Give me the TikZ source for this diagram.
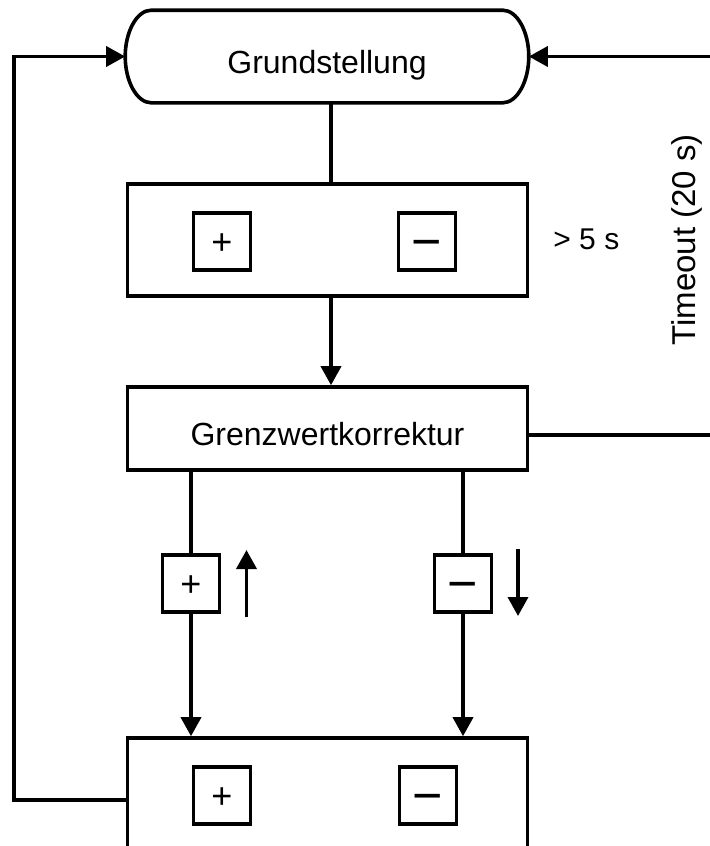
\documentclass[tikz,border=0pt]{standalone}
\usepackage{fontspec}
\setmainfont{Liberation Sans}
\usetikzlibrary{arrows.meta}
\begin{document}
\begin{tikzpicture}[x=0.5pt,y=-0.5pt,
  ln/.style={line width=1.8pt},
  arr/.style={ln,-{Triangle[length=9.5pt,width=10pt]}},
  box/.style={draw,ln,rectangle,minimum width=200pt,inner sep=0pt,font=\fontsize{16}{19}\selectfont,text height=16.8pt,text depth=0pt},
  sq/.style={draw,ln,rectangle,minimum width=28.5pt,minimum height=28.5pt,inner sep=0pt},
  plussign/.style={font=\fontsize{18}{20}\selectfont,anchor=base,inner sep=0pt,yshift=-6.3pt},
  minussign/.style={font=\fontsize{26}{30}\selectfont,anchor=base,inner sep=0pt,yshift=-9.2pt},
  lbl/.style={font=\fontsize{16.5}{19}\selectfont,inner sep=0pt}
]
\useasboundingbox (0,0) rectangle (710,846);
\clip (0,0) rectangle (710,846);

% Grundstellung (terminator shape)
\node[box,draw=none,minimum height=44.5pt] (gs) at (327,56.5) {Grundstellung};
\draw[ln] ([xshift=13pt]gs.north west) -- ([xshift=-13pt]gs.north east)
  .. controls ([xshift=-5.8pt]gs.north east) and ([yshift=12.3pt]gs.east) .. (gs.east)
  .. controls ([yshift=-12.3pt]gs.east) and ([xshift=-5.8pt]gs.south east) .. ([xshift=-13pt]gs.south east)
  -- ([xshift=13pt]gs.south west)
  .. controls ([xshift=5.8pt]gs.south west) and ([yshift=-12.3pt]gs.west) .. (gs.west)
  .. controls ([yshift=12.3pt]gs.west) and ([xshift=5.8pt]gs.north west) .. ([xshift=13pt]gs.north west)
  -- cycle;

% second box with buttons
\node[box,minimum height=56pt] (b2) at (327.5,240) {};
\node[sq] (b2p) at (222,241.5) {};
\node[plussign] (b2pt) at (b2p.center) {+};
\node[sq] (b2m) at (427,241.5) {};
\node[minussign] (b2mt) at (b2m.center) {−};
\node[font=\fontsize{15}{17}\selectfont,anchor=base west,inner sep=0pt] (t5) at (553,249) {> 5 s};

% Grenzwertkorrektur
\node[box,minimum height=41.5pt] (gk) at (327.5,428.5) {Grenzwertkorrektur};

% branch squares
\node[sq] (pL) at (191,583.5) {};
\node[plussign] (pLt) at (pL.center) {+};
\node[sq] (mR) at (463,583.5) {};
\node[minussign] (mRt) at (mR.center) {−};

% bottom box
\node[box,minimum height=81pt] (bot) at (327.5,819) {};
\node[sq] (bp) at (222,795.5) {};
\node[plussign] (bpt) at (bp.center) {+};
\node[sq] (bm) at (428,795.5) {};
\node[minussign] (bmt) at (bm.center) {−};

% timeout label
\node[lbl,rotate=90] (to) at (687,240) {Timeout (20 s)};

% helper coordinates
\coordinate (ax) at (331,0);
\coordinate (lb) at (14,800);
\coordinate (lt) at (14,56.5);
\coordinate (rb) at (740,435);
\coordinate (rt) at (740,56.5);
\coordinate (ua1) at (246.5,617);
\coordinate (ua2) at (246.5,550);
\coordinate (da1) at (518,549);
\coordinate (da2) at (518,616);

% connectors
\draw[ln] (gs.south -| ax) -- (b2.north -| ax);
\draw[arr] (b2.south -| ax) -- (gk.north -| ax);
\draw[ln] (gk.south -| pL.north) -- (pL.north);
\draw[arr] (pL.south) -- (bot.north -| pL.south);
\draw[ln] (gk.south -| mR.north) -- (mR.north);
\draw[arr] (mR.south) -- (bot.north -| mR.south);
\draw[arr] (bot.west |- lb) -- (lb) -- (lt) -- (gs.west);
\draw[arr] (gk.east |- rb) -- (rb) -- (rt) -- (gs.east);
\draw[arr] (ua1) -- (ua2);
\draw[arr] (da1) -- (da2);
\end{tikzpicture}
\end{document}
